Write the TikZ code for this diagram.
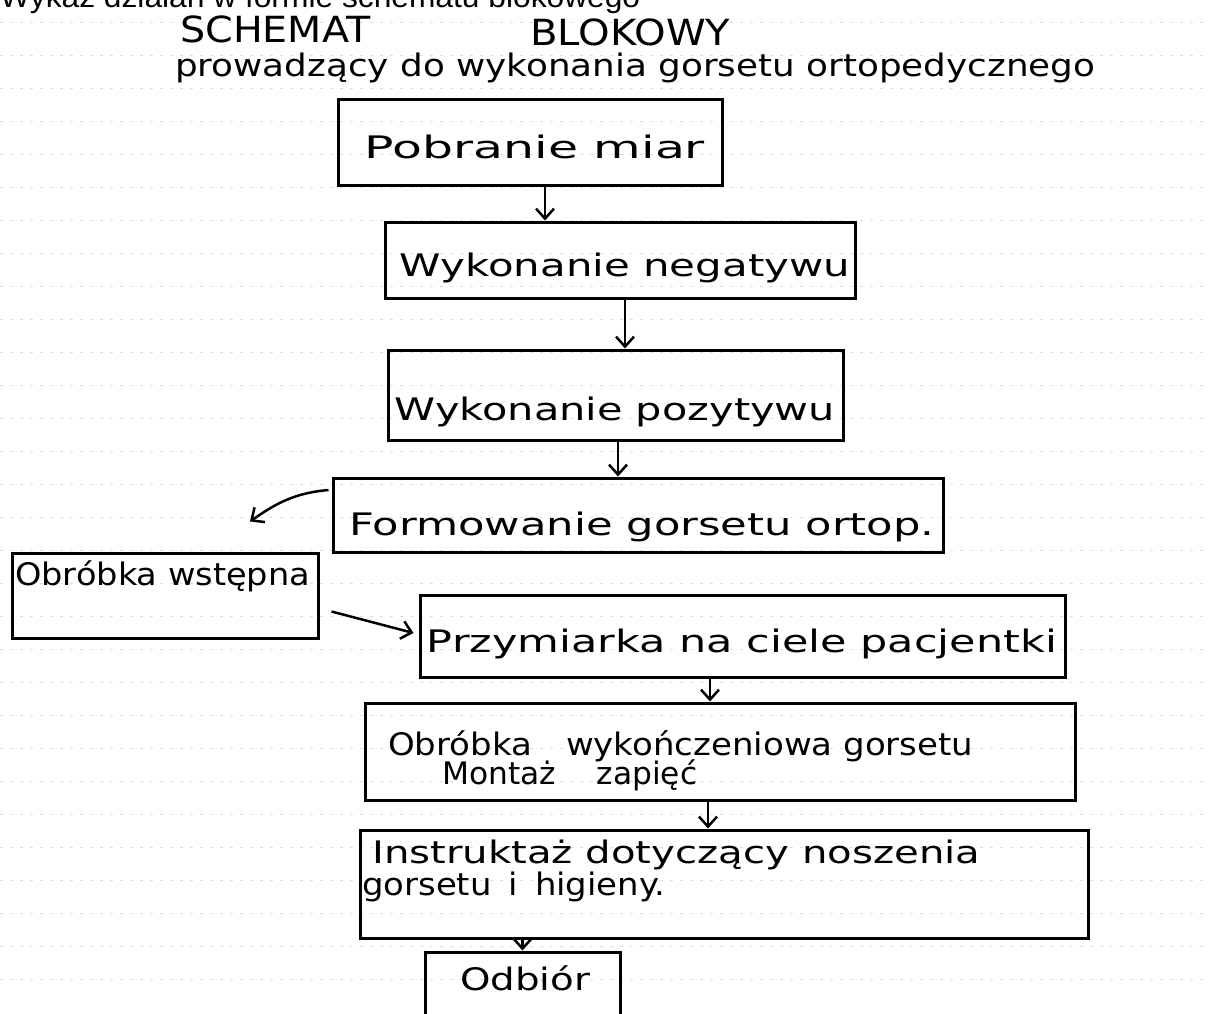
\documentclass[tikz,border=0pt]{standalone}
\usepackage{fontspec}
\usepackage{graphicx}
\usetikzlibrary{arrows.meta,calc}
\newfontfamily\arialf{Liberation Sans}
\newfontfamily\handf{DejaVu Sans}
\newcommand\hwtext[2]{\resizebox{#1}{\height}{#2}}
\tikzset{
  box/.style={draw=black, line width=3pt, inner sep=0pt},
  arr/.style={line width=2.5pt, -{Straight Barb[length=10pt,width=18pt,line width=2.5pt]}},
  hand/.style={font=\handf\fontsize{31}{34}\selectfont, inner sep=0pt},
  head/.style={font=\handf\fontsize{36}{40}\selectfont, inner sep=0pt},
  ruled/.style={gray!28, line width=0.8pt, dash pattern=on 3pt off 7pt},
}
\begin{document}
\begin{tikzpicture}[x=1pt,y=-1pt]
\useasboundingbox (0,0) rectangle (1210,1014);
\clip (0,0) rectangle (1210,1014);
\fill[white] (0,0) rectangle (1210,1014);
\foreach \yy in {22,55,...,1000} \draw[ruled] (0,\yy) -- (1210,\yy);

% top caption (cut off)
\node[font=\arialf\fontsize{30}{34}\selectfont, inner sep=0pt, anchor=base west] (cap) at (0,8) {\hwtext{640pt}{Wykaz działań w formie schematu blokowego}};

% headings
\node[head, anchor=base west] (h1) at (180,43) {\hwtext{190pt}{SCHEMAT}};
\node[head, anchor=base west] (h2) at (530,46) {\hwtext{200pt}{BLOKOWY}};
\node[hand, anchor=base west] (h3) at (175,77) {\hwtext{920pt}{prowadzący do wykonania gorsetu ortopedycznego}};

% boxes
\node[box, minimum width=384pt, minimum height=85pt] (b1) at (530,142.5) {};
\node[box, minimum width=470pt, minimum height=76pt] (b2) at (620,260) {};
\node[box, minimum width=455pt, minimum height=90pt] (b3) at (615.5,395) {};
\node[box, minimum width=610pt, minimum height=74pt] (b4) at (638,515) {};
\node[box, minimum width=306pt, minimum height=85pt] (b5) at (165,595.5) {};
\node[box, minimum width=645pt, minimum height=82pt] (b6) at (742.5,636) {};
\node[box, minimum width=710pt, minimum height=97pt] (b7) at (720,751.5) {};
\node[box, minimum width=728pt, minimum height=108pt] (b8) at (724,884) {};
\node[box, minimum width=195pt, minimum height=86pt] (b9) at (522.5,995) {};

% texts
\node[hand, anchor=base] (t1) at (535,158) {\hwtext{340pt}{Pobranie miar}};
\node[hand, anchor=base] (t2) at (625,276) {\hwtext{450pt}{Wykonanie negatywu}};
\node[hand, anchor=base] (t3) at (615,420) {\hwtext{440pt}{Wykonanie pozytywu}};
\node[hand, anchor=base] (t4) at (642,535) {\hwtext{585pt}{Formowanie gorsetu ortop.}};
\node[hand, anchor=base west] (t5) at (15,585) {\hwtext{295pt}{Obróbka wstępna}};
\node[hand, anchor=base] (t6) at (742,652) {\hwtext{630pt}{Przymiarka na ciele pacjentki}};
\node[hand, anchor=base west] (t7a) at (388,755) {\hwtext{585pt}{Obróbka\quad wykończeniowa gorsetu}};
\node[hand, anchor=base west] (t7b) at (442,784) {\hwtext{255pt}{Montaż\hspace{1.3em}zapięć}};
\node[hand, anchor=base west] (t8a) at (372,863) {\hwtext{608pt}{Instruktaż dotyczący noszenia}};
\node[hand, anchor=base west] (t8b) at (362,895) {\hwtext{303pt}{gorsetu\enspace i\enspace higieny.}};
\node[hand, anchor=base] (t9) at (525,990) {\hwtext{130pt}{Odbiór}};

% connectors
\coordinate (a1) at ($(b1.south)+(15,0)$);
\draw[arr] (a1) -- (a1 |- b2.north);
\coordinate (a2) at ($(b2.south)+(5,0)$);
\draw[arr] (a2) -- (a2 |- b3.north);
\coordinate (a3) at ($(b3.south)+(2.5,0)$);
\draw[arr] (a3) -- (a3 |- b4.north);
\coordinate (a4s) at ($(b4.west)+(-3,-25)$);
\coordinate (a4e) at ($(b5.north)+(85,-30)$);
\draw[arr] (a4s) to[out=185,in=35] (a4e);
\coordinate (a5s) at ($(b5.east)+(12,16)$);
\coordinate (a5e) at ($(b6.west)+(-5,-3)$);
\draw[arr] (a5s) -- (a5e);
\coordinate (a6) at ($(b6.south)+(-32.5,0)$);
\draw[arr] (a6) -- (a6 |- b7.north);
\coordinate (a7) at ($(b7.south)+(-12,0)$);
\draw[arr] (a7) -- (a7 |- b8.north);
\draw[arr] (b9.north |- b8.south) -- (b9.north);
\end{tikzpicture}
\end{document}
